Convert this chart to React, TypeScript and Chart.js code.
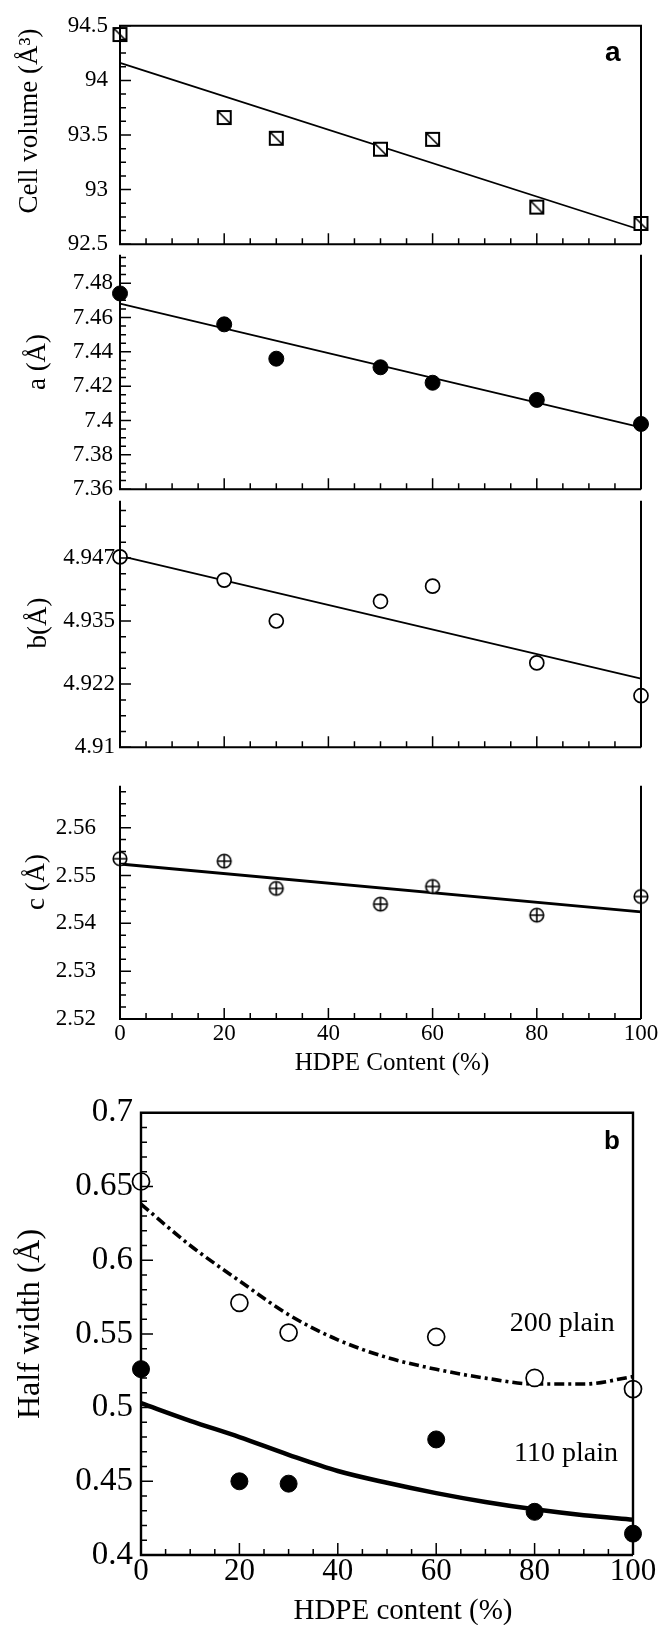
import React, { useEffect, useRef } from "react";
import { Chart, registerables } from "chart.js";

Chart.register(...registerables);

// ---------------- data ----------------
const HDPE = [0, 20, 30, 50, 60, 80, 100];
const CELL_VOLUME = [94.42, 93.66, 93.47, 93.37, 93.46, 92.84, 92.69];
const A_PARAM = [7.474, 7.456, 7.436, 7.431, 7.422, 7.412, 7.398];
const B_PARAM = [4.9477, 4.9431, 4.935, 4.9389, 4.9419, 4.9267, 4.9202];
const C_PARAM = [2.5535, 2.553, 2.5473, 2.544, 2.5477, 2.5417, 2.5456];

const FIT_X = [0, 100];
const CELL_FIT = [94.16, 92.63];
const A_FIT = [7.468, 7.396];
const B_FIT = [4.9479, 4.9236];
const C_FIT = [2.5524, 2.5424];

const HW_X = [0, 20, 30, 60, 80, 100];
const HW_200 = [0.6534, 0.5711, 0.5509, 0.548, 0.5201, 0.5126];
const HW_110 = [0.5261, 0.45, 0.4484, 0.4784, 0.4293, 0.4145];

const CURVE_X = [0, 10, 20, 30, 40, 50, 60, 70, 80, 90, 100];
const CURVE_200 = [0.638, 0.61, 0.586, 0.563, 0.546, 0.534, 0.526, 0.52, 0.516, 0.516, 0.521];
const CURVE_110 = [0.503, 0.491, 0.48, 0.468, 0.457, 0.449, 0.442, 0.436, 0.431, 0.427, 0.424];

const X_TICKS = [0, 20, 40, 60, 80, 100];
const X_TICK_LABELS = ["0", "20", "40", "60", "80", "100"];
const CELL_TICKS = [92.5, 93, 93.5, 94, 94.5];
const CELL_TICK_LABELS = ["92.5", "93", "93.5", "94", "94.5"];
const A_TICKS = [7.36, 7.38, 7.4, 7.42, 7.44, 7.46, 7.48];
const A_TICK_LABELS = ["7.36", "7.38", "7.4", "7.42", "7.44", "7.46", "7.48"];
const B_TICKS = [4.91, 4.9225, 4.935, 4.9475];
const B_TICK_LABELS = ["4.91", "4.922", "4.935", "4.947"];
const C_TICKS = [2.52, 2.53, 2.54, 2.55, 2.56];
const C_TICK_LABELS = ["2.52", "2.53", "2.54", "2.55", "2.56"];
const HW_TICKS = [0.4, 0.45, 0.5, 0.55, 0.6, 0.65, 0.7];
const HW_TICK_LABELS = ["0.4", "0.45", "0.5", "0.55", "0.6", "0.65", "0.7"];

// ---------------- styling ----------------
const SERIF = "'Liberation Serif', 'Times New Roman', serif";
const SANS = "'Liberation Sans', Arial, sans-serif";
const W = 664;

const pts = (xs: number[], ys: number[]) => xs.map((x, i) => ({ x, y: ys[i] }));

function makeSquareDiag(): HTMLCanvasElement {
  const c = document.createElement("canvas");
  c.width = 17;
  c.height = 17;
  const g = c.getContext("2d")!;
  g.fillStyle = "#fff";
  g.fillRect(2, 2, 13, 13);
  g.strokeStyle = "#000";
  g.lineWidth = 2;
  g.strokeRect(2, 2, 13, 13);
  g.lineWidth = 1.6;
  g.beginPath();
  g.moveTo(2, 2);
  g.lineTo(15, 15);
  g.stroke();
  return c;
}

function makeCirclePlus(): HTMLCanvasElement {
  const c = document.createElement("canvas");
  c.width = 18;
  c.height = 18;
  const g = c.getContext("2d")!;
  g.fillStyle = "#fff";
  g.strokeStyle = "#000";
  g.lineWidth = 1.6;
  g.beginPath();
  g.arc(9, 9, 6.8, 0, Math.PI * 2);
  g.fill();
  g.stroke();
  g.beginPath();
  g.moveTo(2.2, 9);
  g.lineTo(15.8, 9);
  g.moveTo(9, 2.2);
  g.lineTo(9, 15.8);
  g.stroke();
  return c;
}

const framePlugin = {
  id: "frame",
  afterDraw(chart: any, _args: any, o: any) {
    const { ctx, chartArea } = chart;
    const { left, right, top, bottom } = chartArea;
    const xs = chart.scales.x;
    const ys = chart.scales.y;
    const startY = top + (o.topBorder ? 0 : o.sideGap);
    ctx.save();
    ctx.strokeStyle = "#000";
    ctx.lineWidth = o.axisWidth;
    ctx.beginPath();
    ctx.moveTo(left, startY);
    ctx.lineTo(left, bottom);
    ctx.lineTo(right, bottom);
    ctx.moveTo(right, bottom);
    ctx.lineTo(right, startY);
    if (o.topBorder) {
      ctx.moveTo(left - o.axisWidth / 2, top);
      ctx.lineTo(right + o.axisWidth / 2, top);
    }
    ctx.stroke();

    ctx.lineWidth = o.tickWidth;
    ctx.beginPath();
    const nx = Math.round((xs.max - xs.min) / o.xMinor);
    const rx = Math.round(o.xMajor / o.xMinor);
    for (let i = 0; i <= nx; i++) {
      const px = xs.getPixelForValue(xs.min + i * o.xMinor);
      const len = i % rx === 0 ? o.majorLen : o.minorLen;
      ctx.moveTo(px, bottom);
      ctx.lineTo(px, bottom - len);
    }
    const ny = Math.round((ys.max - ys.min) / o.yMinor);
    const ry = Math.round(o.yMajor / o.yMinor);
    for (let i = 0; i <= ny; i++) {
      const py = ys.getPixelForValue(ys.min + i * o.yMinor);
      if (py < startY - 0.5) continue;
      const len = i % ry === 0 ? o.majorLen : o.minorLen;
      ctx.moveTo(left, py);
      ctx.lineTo(left + len, py);
    }
    ctx.stroke();

    ctx.fillStyle = "#000";
    ctx.textAlign = "center";
    ctx.textBaseline = "middle";
    (o.notes || []).forEach((n: any) => {
      ctx.font = n.font;
      ctx.fillText(n.text, xs.getPixelForValue(n.x), ys.getPixelForValue(n.y));
    });
    (o.titles || []).forEach((t: any) => {
      ctx.save();
      ctx.font = t.font;
      ctx.translate(t.x, t.y - o.canvasTop);
      if (t.rotate) ctx.rotate(-Math.PI / 2);
      ctx.fillText(t.text, 0, 0);
      ctx.restore();
    });
    ctx.restore();
  },
};

type Spec = {
  canvasTop: number;
  canvasH: number;
  areaTop: number;
  areaBottom: number;
  left: number;
  right: number;
  yMin: number;
  yMax: number;
  yTicks: number[];
  yLabels: string[];
  yMinor: number;
  yMajor: number;
  yLabelPad: number;
  yTickSize: number;
  showX: boolean;
  xTickSize?: number;
  xTickPad?: number;
  titles: any[];
  datasets: any[];
  topBorder: boolean;
  axisWidth: number;
  majorLen: number;
  minorLen: number;
  notes?: any[];
};

function buildConfig(s: Spec): any {
  const xAxisH = s.showX ? s.canvasH - (s.areaBottom - s.canvasTop) : 0;
  const padBottom = s.showX ? 0 : s.canvasTop + s.canvasH - s.areaBottom;
  return {
    type: "scatter",
    data: { datasets: s.datasets },
    plugins: [framePlugin],
    options: {
      responsive: false,
      maintainAspectRatio: false,
      animation: false,
      devicePixelRatio: 1,
      layout: {
        padding: {
          top: s.areaTop - s.canvasTop,
          bottom: padBottom,
          left: 0,
          right: W - s.right,
        },
      },
      plugins: {
        legend: { display: false },
        tooltip: { enabled: false },
        frame: {
          xMinor: 5,
          xMajor: 20,
          yMinor: s.yMinor,
          yMajor: s.yMajor,
          majorLen: s.majorLen,
          minorLen: s.minorLen,
          axisWidth: s.axisWidth,
          tickWidth: 1.5,
          topBorder: s.topBorder,
          sideGap: 6,
          canvasTop: s.canvasTop,
          notes: s.notes || [],
          titles: s.titles,
        },
      },
      scales: {
        x: {
          type: "linear",
          min: 0,
          max: 100,
          position: "bottom",
          grid: { display: false, drawTicks: false },
          border: { display: false },
          afterBuildTicks: (sc: any) => {
            sc.ticks = X_TICKS.map((v) => ({ value: v }));
          },
          afterFit: (sc: any) => {
            sc.height = xAxisH;
          },
          ticks: {
            display: s.showX,
            autoSkip: false,
            maxRotation: 0,
            padding: s.xTickPad ?? 0,
            color: "#000",
            font: { family: SERIF, size: s.xTickSize ?? 23, lineHeight: 1 },
            callback: (_v: any, i: number) => X_TICK_LABELS[i],
          },
        },
        y: {
          type: "linear",
          min: s.yMin,
          max: s.yMax,
          position: "left",
          grid: { display: false, drawTicks: false },
          border: { display: false },
          afterBuildTicks: (sc: any) => {
            sc.ticks = s.yTicks.map((v) => ({ value: v }));
          },
          afterFit: (sc: any) => {
            sc.width = s.left;
          },
          ticks: {
            autoSkip: false,
            padding: s.yLabelPad,
            color: "#000",
            font: { family: SERIF, size: s.yTickSize },
            callback: (_v: any, i: number) => s.yLabels[i],
          },
        },
      },
    },
  };
}

function lineDs(xs: number[], ys: number[], width: number, extra: any = {}) {
  return {
    data: pts(xs, ys),
    showLine: true,
    borderColor: "#000",
    borderWidth: width,
    pointRadius: 0,
    fill: false,
    clip: false,
    ...extra,
  };
}

function markerDs(xs: number[], ys: number[], extra: any) {
  return {
    data: pts(xs, ys),
    showLine: false,
    pointBorderColor: "#000",
    clip: false,
    ...extra,
  };
}

const tf = (size: number) => `${size}px ${SERIF}`;

function specs(): Spec[] {
  const sq = makeSquareDiag();
  const cp = makeCirclePlus();
  const common = { left: 120, right: 641, yTickSize: 23, axisWidth: 2, majorLen: 11, minorLen: 6 };
  return [
    {
      ...common,
      canvasTop: 0,
      canvasH: 270,
      areaTop: 25,
      areaBottom: 246,
      yMin: 92.5,
      yMax: 94.5,
      yTicks: CELL_TICKS,
      yLabels: CELL_TICK_LABELS,
      yMinor: 0.125,
      yMajor: 0.5,
      yLabelPad: 12,
      showX: false,
      topBorder: true,
      titles: [{ text: "Cell volume (Å³)", x: 30, y: 121, rotate: true, font: tf(27) }],
      datasets: [
        markerDs(HDPE, CELL_VOLUME, { pointStyle: sq, pointRadius: 8 }),
        lineDs(FIT_X, CELL_FIT, 1.8),
      ],
      notes: [{ text: "a", x: 94.6, y: 94.25, font: `bold 28px ${SANS}` }],
    },
    {
      ...common,
      canvasTop: 228,
      canvasH: 282,
      areaTop: 245,
      areaBottom: 493,
      yMin: 7.36,
      yMax: 7.5,
      yTicks: A_TICKS,
      yLabels: A_TICK_LABELS,
      yMinor: 0.005,
      yMajor: 0.02,
      yLabelPad: 7,
      showX: false,
      topBorder: false,
      titles: [{ text: "a (Å)", x: 38, y: 362, rotate: true, font: tf(27) }],
      datasets: [
        markerDs(HDPE, A_PARAM, { pointStyle: "circle", pointRadius: 7.5, pointBackgroundColor: "#000", pointBorderWidth: 1 }),
        lineDs(FIT_X, A_FIT, 1.8),
      ],
    },
    {
      ...common,
      canvasTop: 476,
      canvasH: 290,
      areaTop: 493,
      areaBottom: 750,
      yMin: 4.91,
      yMax: 4.96,
      yTicks: B_TICKS,
      yLabels: B_TICK_LABELS,
      yMinor: 0.003125,
      yMajor: 0.0125,
      yLabelPad: 5,
      showX: false,
      topBorder: false,
      titles: [{ text: "b(Å)", x: 39, y: 623, rotate: true, font: tf(27) }],
      datasets: [
        markerDs(HDPE, B_PARAM, { pointStyle: "circle", pointRadius: 7, pointBackgroundColor: "#fff", pointBorderWidth: 1.7 }),
        lineDs(FIT_X, B_FIT, 1.8),
      ],
    },
    {
      ...common,
      canvasTop: 742,
      canvasH: 338,
      areaTop: 761,
      areaBottom: 1019,
      yMin: 2.52,
      yMax: 2.57,
      yTicks: C_TICKS,
      yLabels: C_TICK_LABELS,
      yMinor: 0.0025,
      yMajor: 0.01,
      yLabelPad: 24,
      showX: true,
      xTickSize: 23,
      xTickPad: 3,
      topBorder: false,
      titles: [
        { text: "c (Å)", x: 37, y: 882, rotate: true, font: tf(27) },
        { text: "HDPE Content (%)", x: 392, y: 1063, rotate: false, font: tf(25) },
      ],
      datasets: [
        markerDs(HDPE, C_PARAM, { pointStyle: cp, pointRadius: 8 }),
        lineDs(FIT_X, C_FIT, 2.8),
      ],
    },
    {
      canvasTop: 1085,
      canvasH: 540,
      areaTop: 1111,
      areaBottom: 1555,
      left: 141,
      right: 633,
      yMin: 0.4,
      yMax: 0.7,
      yTicks: HW_TICKS,
      yLabels: HW_TICK_LABELS,
      yMinor: 0.01,
      yMajor: 0.05,
      yLabelPad: 8,
      yTickSize: 33,
      showX: true,
      xTickSize: 31,
      xTickPad: 1,
      topBorder: true,
      axisWidth: 2.4,
      majorLen: 12,
      minorLen: 6,
      titles: [
        { text: "Half width (Å)", x: 31, y: 1324, rotate: true, font: tf(32) },
        { text: "HDPE content (%)", x: 403, y: 1611, rotate: false, font: tf(29) },
      ],
      datasets: [
        markerDs(HW_X, HW_200, { pointStyle: "circle", pointRadius: 8.5, pointBackgroundColor: "#fff", pointBorderWidth: 1.7 }),
        markerDs(HW_X, HW_110, { pointStyle: "circle", pointRadius: 8.5, pointBackgroundColor: "#000", pointBorderWidth: 1 }),
        lineDs(CURVE_X, CURVE_200, 3.6, { borderDash: [10, 4, 3, 4], tension: 0.4, cubicInterpolationMode: "monotone" }),
        lineDs(CURVE_X, CURVE_110, 4.5, { tension: 0.4, cubicInterpolationMode: "monotone" }),
      ],
      notes: [
        { text: "b", x: 95.7, y: 0.6804, font: `bold 26px ${SANS}` },
        { text: "200 plain", x: 85.6, y: 0.5568, font: tf(28) },
        { text: "110 plain", x: 86.4, y: 0.469, font: tf(28) },
      ],
    },
  ];
}

function Panel({ index, top, height }: { index: number; top: number; height: number }) {
  const ref = useRef<HTMLCanvasElement>(null);
  useEffect(() => {
    const s = specs()[index];
    const chart = new Chart(ref.current!, buildConfig(s));
    return () => chart.destroy();
  }, [index]);
  return (
    <canvas
      ref={ref}
      width={W}
      height={height}
      style={{ position: "absolute", left: 0, top, width: W, height, display: "block" }}
    />
  );
}

const LAYOUT = [
  { top: 0, height: 270 },
  { top: 228, height: 282 },
  { top: 476, height: 290 },
  { top: 742, height: 338 },
  { top: 1085, height: 540 },
];

export default function App() {
  return (
    <div
      style={{
        position: "absolute",
        left: 0,
        top: 0,
        width: W,
        height: 1625,
        background: "#fff",
        overflow: "hidden",
      }}
    >
      {LAYOUT.map((l, i) => (
        <Panel key={i} index={i} top={l.top} height={l.height} />
      ))}
    </div>
  );
}
